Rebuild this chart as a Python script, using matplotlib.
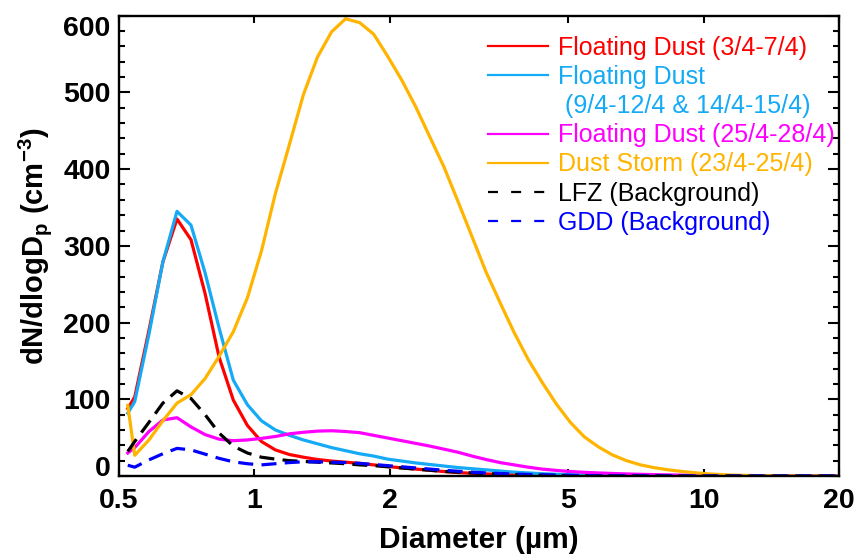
import matplotlib
matplotlib.use("Agg")
import matplotlib.pyplot as plt
from matplotlib.lines import Line2D
from matplotlib.ticker import FixedLocator, NullLocator, MultipleLocator

plt.rcParams['font.family'] = ['Liberation Sans', 'DejaVu Sans']
plt.rcParams['mathtext.fontset'] = 'custom'
plt.rcParams['mathtext.rm'] = 'Liberation Sans:bold'
plt.rcParams['mathtext.bf'] = 'Liberation Sans:bold'
plt.rcParams['mathtext.it'] = 'Liberation Sans:bold'

# APS bin midpoint diameters (um)
diameter = [0.523, 0.542, 0.583, 0.626, 0.673, 0.723, 0.777, 0.835, 0.898, 0.965,
            1.037, 1.114, 1.197, 1.286, 1.382, 1.486, 1.596, 1.715, 1.843, 1.981,
            2.129, 2.288, 2.458, 2.642, 2.839, 3.051, 3.278, 3.523, 3.786, 4.068,
            4.371, 4.698, 5.048, 5.425, 5.829, 6.264, 6.732, 7.234, 7.774, 8.354,
            8.977, 9.647, 10.37, 11.14, 11.97, 12.86, 13.82, 14.86, 15.96, 17.15,
            18.43, 19.81]

fd_3_7 = [88, 103, 190, 279, 335, 308, 238, 155, 99, 66,
          45, 34, 28, 24.5, 21.5, 19.5, 18, 16.5, 14.5, 12.5,
          10.5, 9, 7.5, 5.8, 4.5, 3.5, 2.7, 2.0, 1.5, 1.1,
          0.8, 0.6, 0.4, 0.3, 0.2, 0.2, 0.1, 0.1, 0.1, 0.1,
          0, 0, 0, 0, 0, 0, 0, 0, 0, 0, 0, 0]

fd_9_15 = [82, 97, 185, 279, 345, 327, 265, 193, 125, 93,
           72, 60, 53, 47, 42, 37, 33, 29, 26, 22,
           19.5, 17, 15, 13, 11, 9.5, 8, 6.5, 5, 4,
           3, 2.3, 1.7, 1.3, 1.0, 0.7, 0.5, 0.4, 0.3, 0.2,
           0.1, 0.1, 0, 0, 0, 0, 0, 0, 0, 0, 0, 0]

fd_25_28 = [30, 37, 58, 73, 76, 64, 54, 48, 46, 47,
            49, 51.5, 55, 57, 58.5, 59, 58, 56.5, 53, 49.5,
            46, 42.5, 39, 35, 31, 26, 21.5, 17.5, 14.5, 11.5,
            9, 7.3, 5.8, 4.8, 4.0, 3.3, 2.7, 2.2, 1.8, 1.4,
            1.1, 0.9, 0.7, 0.5, 0.4, 0.3, 0.2, 0.2, 0.1, 0.1, 0.1, 0.1]

storm_23_25 = [92, 27, 47, 72, 95, 106, 127, 156, 188, 232,
               293, 368, 432, 497, 546, 579, 596, 591, 576, 547,
               516, 481, 442, 403, 358, 312, 266, 226, 187, 152,
               122, 94, 70, 51, 38, 27.5, 20, 14.5, 10.8, 8,
               5.8, 4, 2.6, 1.6, 1.0, 0.6, 0.3, 0.2, 0.1, 0.1, 0, 0]

lfz_bg = [32, 45, 70, 95, 111, 101, 80, 56, 39, 30,
          24.5, 22, 20, 19, 18, 17, 16, 14.5, 13.5, 12,
          10.5, 9, 7.5, 6, 5, 4, 3.2, 2.5, 2.0, 1.5,
          1.1, 0.8, 0.6, 0.4, 0.3, 0.2, 0.1, 0.1, 0.1, 0,
          0, 0, 0, 0, 0, 0, 0, 0, 0, 0, 0, 0]

gdd_bg = [14, 11.5, 21, 29, 36, 34, 28.5, 23, 18.5, 16,
          14.5, 16, 17.5, 18.5, 18.5, 18, 17.5, 16.5, 15, 13.5,
          12, 10.5, 9, 7.5, 6.2, 5, 4, 3.2, 2.5, 2.0,
          1.5, 1.1, 0.8, 0.6, 0.4, 0.3, 0.2, 0.1, 0.1, 0.1,
          0, 0, 0, 0, 0, 0, 0, 0, 0, 0, 0, 0]

labels = ['Floating Dust (3/4-7/4)', 'Floating Dust',
          'Floating Dust (25/4-28/4)', 'Dust Storm (23/4-25/4)',
          'LFZ (Background)', 'GDD (Background)']
second_line = ' (9/4-12/4 & 14/4-15/4)'
colors = ['#ff0000', '#14aaf5', '#ff00ff', '#ffb400', '#000000', '#0000ff']
xticks = [0.5, 1, 2, 5, 10, 20]
xticklabels = ['0.5', '1', '2', '5', '10', '20']
yticks = [0, 100, 200, 300, 400, 500, 600]

fig = plt.figure(figsize=(8.59, 5.54), dpi=100)
ax = fig.add_axes([119/859, 1-476/554, 720/859, (476-15.7)/554])

series = [fd_3_7, fd_9_15, fd_25_28, storm_23_25, lfz_bg, gdd_bg]
dashed = [False, False, False, False, True, True]
handles = []
for ys, c, d in zip(series, colors, dashed):
    ls = (0, (4.7, 2.6)) if d else '-'
    h, = ax.plot(diameter, ys, color=c, lw=2.3, ls=ls)
    handles.append(h)

ax.set_xscale('log')
ax.set_xlim(0.5, 20)
ax.set_ylim(0, 600)
ax.xaxis.set_major_locator(FixedLocator(xticks))
ax.xaxis.set_minor_locator(NullLocator())
ax.set_xticklabels(xticklabels)
ax.yaxis.set_major_locator(FixedLocator(yticks))
ax.yaxis.set_minor_locator(MultipleLocator(20))

for s in ax.spines.values():
    s.set_linewidth(1.7)
ax.tick_params(axis='both', which='both', direction='in', top=True, right=True,
               width=1.5)
ax.tick_params(axis='x', which='major', length=5, pad=9)
ax.tick_params(axis='y', which='major', length=8, pad=6)
ax.tick_params(axis='y', which='minor', length=4.5)
for lab in ax.get_xticklabels() + ax.get_yticklabels():
    lab.set_fontsize(20.5)
    lab.set_fontweight('bold')

yt = ax.yaxis.get_major_ticks()
yt[0].label1.set_verticalalignment('baseline')
yt[-1].label1.set_verticalalignment('top')

ax.set_xlabel('Diameter (µm)', fontsize=21.5, fontweight='bold', labelpad=8)
ax.set_ylabel(r'dN/dlogD$_\mathbf{p}$ (cm$^{\mathbf{-3}}$)', fontsize=21,
              fontweight='bold', labelpad=7)

leg_handles = handles[:2] + [Line2D([], [], color='none')] + handles[2:]
leg_labels = labels[:2] + [second_line] + labels[2:]
leg_colors = colors[:2] + [colors[1]] + colors[2:]
leg = ax.legend(leg_handles, leg_labels, loc='upper left',
                bbox_to_anchor=((488-119)/720, 1-(35.5-15.7)/460.3),
                frameon=False, fontsize=18, handlelength=2.4,
                handletextpad=0.4, labelspacing=0.21, borderpad=0,
                borderaxespad=0)
for t, c in zip(leg.get_texts(), leg_colors):
    t.set_color(c)
for lh, c in zip(leg.legend_handles, leg_colors):
    lh.set_linewidth(1.6)
for i in (5, 6):
    leg.legend_handles[i].set_linestyle((0, (4.5, 5.9)))

fig.savefig('out.png', dpi=100)
